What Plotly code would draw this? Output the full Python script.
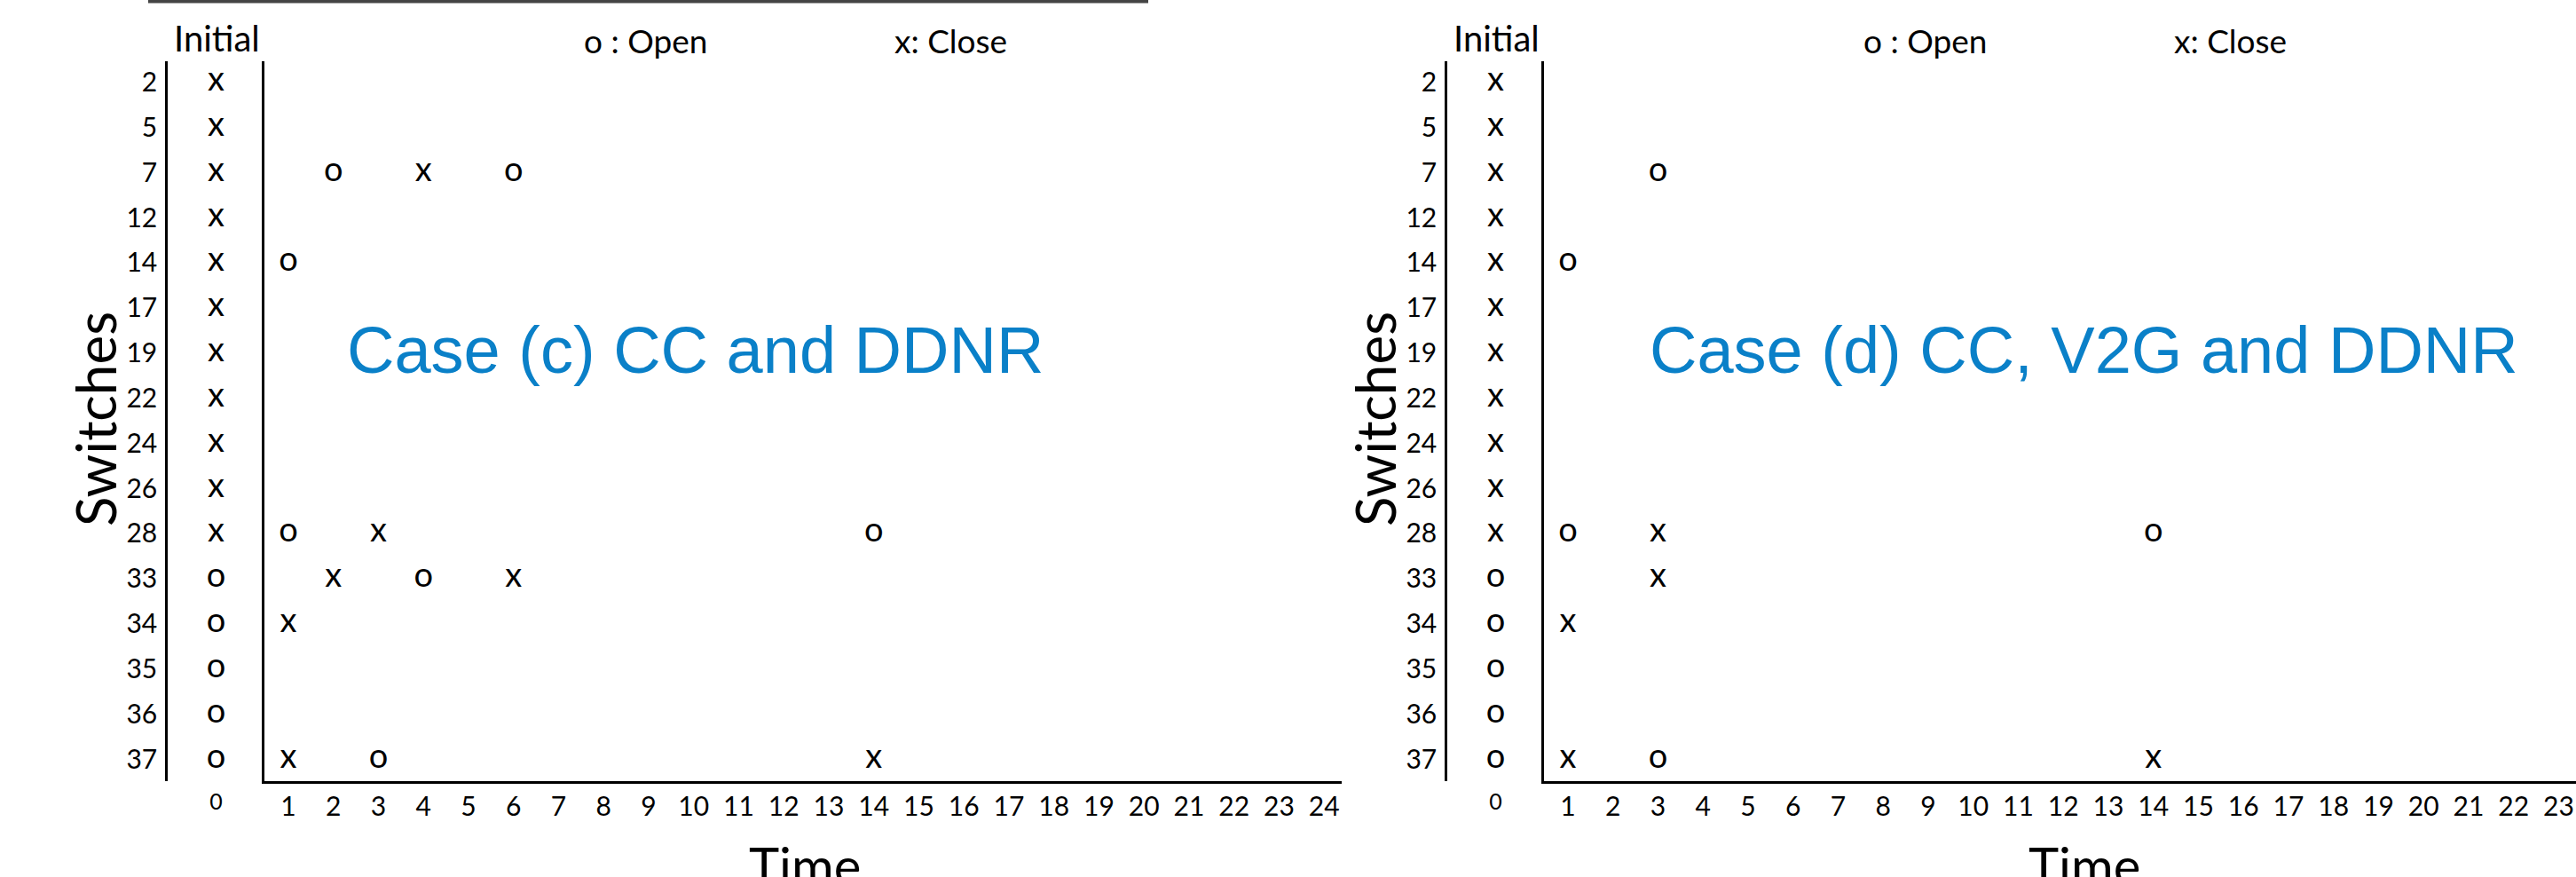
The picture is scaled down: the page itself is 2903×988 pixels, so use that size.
import plotly.graph_objects as go

W, H = 2903, 988

# ---------------- data ----------------
switches = ["2", "5", "7", "12", "14", "17", "19", "22", "24", "26", "28", "33", "34", "35", "36", "37"]
initial_state = ["x", "x", "x", "x", "x", "x", "x", "x", "x", "x", "x", "o", "o", "o", "o", "o"]
time_ticks = list(range(1, 25))

case_c_time = [2, 4, 6, 1, 1, 3, 14, 2, 4, 6, 1, 1, 3, 14]
case_c_switch = ["7", "7", "7", "14", "28", "28", "28", "33", "33", "33", "34", "37", "37", "37"]
case_c_state = ["o", "x", "o", "o", "o", "x", "o", "x", "o", "x", "x", "x", "o", "x"]

case_d_time = [3, 1, 1, 3, 14, 3, 1, 1, 3, 14]
case_d_switch = ["7", "14", "28", "28", "28", "33", "34", "37", "37", "37"]
case_d_state = ["o", "o", "o", "x", "o", "x", "x", "x", "o", "x"]

case_titles = ["Case (c) CC and DDNR", "Case (d) CC, V2G and DDNR"]

# ---------------- styling ----------------
FONT = "Lato"
BLUE = "#0A80C8"
PAGE_OFF = 0  # body margin removed by post_script


def px(xp):
    return (xp - PAGE_OFF) / W


def py(yp):
    return 1 - (yp - PAGE_OFF) / H


Y_DOMAIN = [py(880), py(69)]
Y_RANGE = [15.49, -0.464]
UNIT = 50.75  # px per time step

panels = [
    dict(off=0, times=case_c_time, sw=case_c_switch, st=case_c_state,
         title=case_titles[0], title_x=783),
    dict(off=1442, times=case_d_time, sw=case_d_switch, st=case_d_state,
         title=case_titles[1], title_x=2348),
]

fig = go.Figure()
layout = dict(
    width=W, height=H,
    margin=dict(l=0, r=0, t=0, b=0),
    paper_bgcolor="white", plot_bgcolor="white",
    showlegend=False,
    font=dict(family=FONT, color="black"),
)
annotations = []
shapes = []

for i, p in enumerate(panels):
    off = p["off"]
    a_init = 2 * i + 1
    a_main = 2 * i + 2
    xi = "x" if a_init == 1 else f"x{a_init}"
    yi = "y" if a_init == 1 else f"y{a_init}"
    xm = f"x{a_main}"
    ym = f"y{a_main}"

    left_line = 189 + off
    main_line = 298 + off
    main_end = min(1512 + off, W + PAGE_OFF)
    x_start = 1 - (325 - 298) / UNIT
    x_end = x_start + (main_end - main_line) / UNIT

    fig.add_trace(go.Scatter(
        x=[0] * len(switches), y=switches, mode="text", text=initial_state,
        textfont=dict(size=38, family=FONT, color="black"),
        textposition="middle center", xaxis=xi, yaxis=yi, hoverinfo="skip"))
    fig.add_trace(go.Scatter(
        x=p["times"], y=p["sw"], mode="text", text=p["st"],
        textfont=dict(size=38, family=FONT, color="black"),
        textposition="middle center", xaxis=xm, yaxis=ym, hoverinfo="skip"))

    kx_i = "xaxis" if a_init == 1 else f"xaxis{a_init}"
    ky_i = "yaxis" if a_init == 1 else f"yaxis{a_init}"
    layout[kx_i] = dict(
        domain=[px(left_line), px(main_line)], range=[-1.0, 1.0], anchor=yi,
        tickvals=[0], ticktext=["0"], tickfont=dict(size=25, family=FONT),
        ticklabelstandoff=6,
        showline=False, showgrid=False, zeroline=False, ticks="")
    layout[ky_i] = dict(
        domain=Y_DOMAIN, anchor=xi, type="category", categoryarray=switches,
        range=Y_RANGE, showline=True, linecolor="black", linewidth=2.5,
        showgrid=False, zeroline=False, ticks="", ticklabelstandoff=3,
        tickfont=dict(size=30, family=FONT))
    layout[f"xaxis{a_main}"] = dict(
        domain=[px(main_line), px(main_end)], range=[x_start, x_end], anchor=ym,
        tickvals=time_ticks, ticktext=[str(t) for t in time_ticks],
        tickfont=dict(size=30, family=FONT), showline=True, linecolor="black",
        linewidth=3, showgrid=False, zeroline=False, ticks="")
    layout[f"yaxis{a_main}"] = dict(
        domain=Y_DOMAIN, anchor=xm, type="category", categoryarray=switches,
        range=Y_RANGE, showline=True, linecolor="black", linewidth=3,
        showgrid=False, zeroline=False, ticks="", showticklabels=False)

    annotations += [
        dict(x=px(244 + off), y=py(43), xref="paper", yref="paper", text="Initial",
             showarrow=False, font=dict(size=40, family=FONT), xanchor="center", yanchor="middle"),
        dict(x=px(727 + off), y=py(45), xref="paper", yref="paper", text="o : Open",
             showarrow=False, font=dict(size=37, family=FONT), xanchor="center", yanchor="middle"),
        dict(x=px(1071 + off), y=py(45), xref="paper", yref="paper", text="x: Close",
             showarrow=False, font=dict(size=37, family=FONT), xanchor="center", yanchor="middle"),
        dict(x=px(107 + off), y=py(472), xref="paper", yref="paper", text="Switches",
             textangle=-90, showarrow=False, font=dict(size=62, family=FONT),
             xanchor="center", yanchor="middle"),
        dict(x=px(907 + off), y=py(974), xref="paper", yref="paper", text="Time",
             showarrow=False, font=dict(size=58, family=FONT), xanchor="center", yanchor="middle"),
        dict(x=px(p["title_x"]), y=py(394), xref="paper", yref="paper",
             text=p["title"], showarrow=False,
             font=dict(size=74, family="Liberation Sans", color=BLUE),
             xanchor="center", yanchor="middle"),
    ]

# top dark rule above left panel
shapes.append(dict(type="line", xref="paper", yref="paper", x0=px(167), x1=px(1294),
                   y0=py(1.5), y1=py(1.5), line=dict(color="#444444", width=4)))

layout["annotations"] = annotations
layout["shapes"] = shapes
fig.update_layout(**layout)

fig.write_html(
    "out.html",
    config={"displayModeBar": False},
    post_script="document.body.style.margin='0';document.body.style.overflow='hidden';",
)
